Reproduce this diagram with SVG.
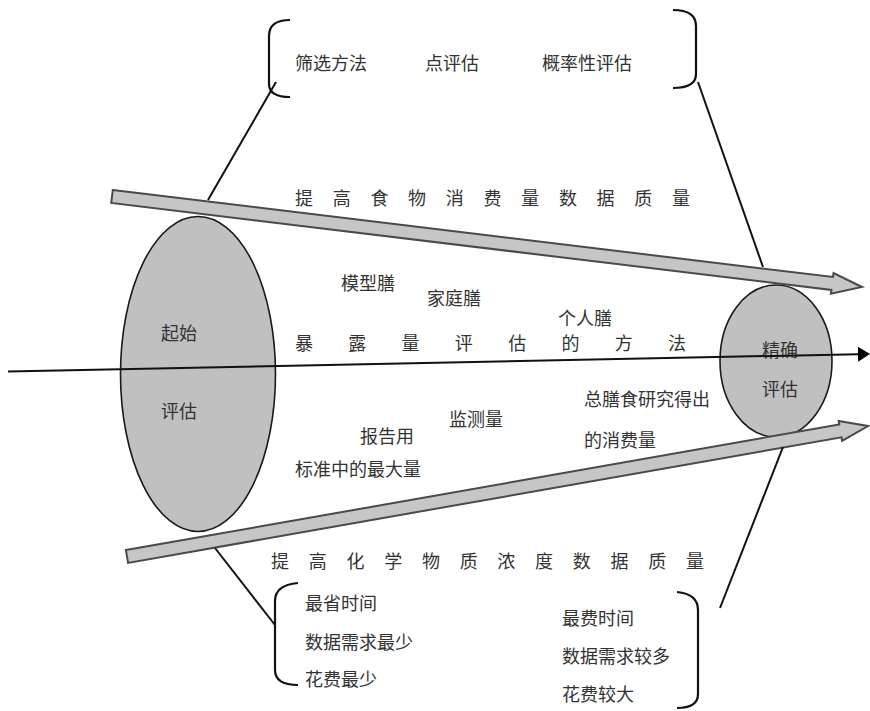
<svg xmlns="http://www.w3.org/2000/svg" width="870" height="711" viewBox="0 0 870 711">
<defs>
<style>
.t{font-family:"Noto Sans CJK SC","Liberation Serif",sans-serif;font-size:18px;fill:#333;dominant-baseline:central}
.ln{stroke:#111;stroke-width:2;fill:none}
.br{stroke:#111;stroke-width:2.2;fill:none}
.ell{fill:#c0c0c0;stroke:#1a1a1a;stroke-width:1.6}
.band{fill:#c6c6c6;stroke:#4a4a4a;stroke-width:2;stroke-linejoin:miter}
</style>
<marker id="ah" markerWidth="12" markerHeight="15" refX="0" refY="7.5" orient="auto" markerUnits="userSpaceOnUse">
<path d="M0,0 L12,7.5 L0,15 z" fill="#000"/>
</marker>
</defs>
<rect width="870" height="711" fill="#fff"/>

<g id="start-node">
<ellipse class="ell" cx="198" cy="374" rx="77.5" ry="157.5"/>
<text class="t" x="161" y="332">起始</text>
<text class="t" x="161" y="410">评估</text>
</g>

<g id="end-node">
<ellipse class="ell" cx="776" cy="361" rx="56" ry="76"/>
<text class="t" x="762" y="349">精确</text>
<text class="t" x="762" y="388">评估</text>
</g>

<g id="food-band">
<polygon class="band" points="112.8,190 833,277 833.5,273 862,287 830.9,293.8 831.4,289.9 111.2,203"/>
<text class="t" x="295" y="197" textLength="395" lengthAdjust="spacing">提 高 食 物 消 费 量 数 据 质 量</text>
</g>

<g id="chem-band">
<polygon class="band" points="125.9,550.1 839.3,424.5 838.7,421 868,426 842.1,440.8 841.5,437.3 128.1,562.9"/>
<text class="t" x="271" y="560" textLength="433" lengthAdjust="spacing">提 高 化 学 物 质 浓 度 数 据 质 量</text>
</g>

<g id="connectors">
<line class="ln" x1="8" y1="371.5" x2="858" y2="354.2" stroke-width="2.4" marker-end="url(#ah)"/>
<line class="ln" x1="208" y1="200" x2="276" y2="82"/>
<line class="ln" x1="698" y1="82" x2="763" y2="267"/>
<line class="ln" x1="215" y1="548" x2="275" y2="625"/>
<line class="ln" x1="783" y1="447" x2="720" y2="608"/>
</g>

<g id="methods">
<text class="t" x="295" y="342" textLength="391" lengthAdjust="spacing">暴 露 量 评 估 的 方 法</text>
</g>

<g id="top-bracket">
<path class="br" d="M290,20 Q269,20 269,36 L269,84 Q269,97 290,97"/>
<path class="br" d="M673,10 Q696,10 696,26 L696,74 Q696,88 673,88"/>
<text class="t" x="295" y="62">筛选方法</text>
<text class="t" x="425" y="62">点评估</text>
<text class="t" x="542" y="62">概率性评估</text>
</g>

<g id="food-items">
<text class="t" x="341" y="282">模型膳</text>
<text class="t" x="427" y="297">家庭膳</text>
<text class="t" x="558" y="317">个人膳</text>
</g>

<g id="chem-items">
<text class="t" x="360" y="435">报告用</text>
<text class="t" x="295" y="468">标准中的最大量</text>
<text class="t" x="449" y="418">监测量</text>
<text class="t" x="584" y="398">总膳食研究得出</text>
<text class="t" x="584" y="439">的消费量</text>
</g>

<g id="bottom-left-bracket">
<path class="br" d="M298,583 Q275,585 275,601 L275,670 Q275,685 298,685"/>
<text class="t" x="305" y="602">最省时间</text>
<text class="t" x="305" y="641">数据需求最少</text>
<text class="t" x="305" y="678">花费最少</text>
</g>

<g id="bottom-right-bracket">
<path class="br" d="M677,592 Q698,594 698,610 L698,694 Q698,708 677,708"/>
<text class="t" x="562" y="617">最费时间</text>
<text class="t" x="562" y="655">数据需求较多</text>
<text class="t" x="562" y="693">花费较大</text>
</g>
</svg>
